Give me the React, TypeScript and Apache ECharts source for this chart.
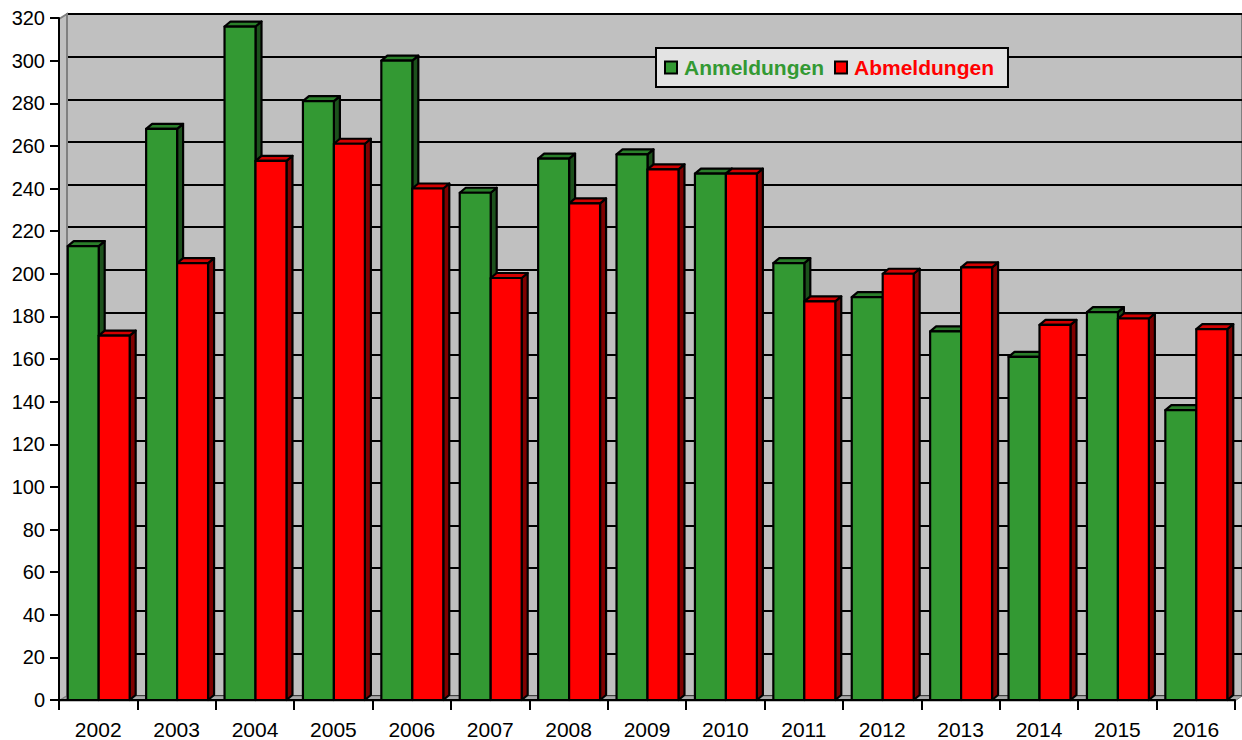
import React, { useEffect, useRef } from "react";
import * as echarts from "echarts";

const categories = ["2002","2003","2004","2005","2006","2007","2008","2009","2010","2011","2012","2013","2014","2015","2016"];
const anmeldungen = [213, 268, 316, 281, 300, 238, 254, 256, 247, 205, 189, 173, 161, 182, 136];
const abmeldungen = [171, 205, 253, 261, 240, 198, 233, 249, 247, 187, 200, 203, 176, 179, 174];
const seriesNames = ["Anmeldungen", "Abmeldungen"];
const yMin = 0;
const yMax = 320;
const yInterval = 20;

const FONT = "'Liberation Sans', Arial, sans-serif";

const palette = [
  { front: "#339933", top: "#2a7f2a", side: "#1c511c" },
  { front: "#FF0000", top: "#d40000", side: "#800000" },
];

function makeRender(s: number) {
  return (params: any, api: any) => {
    const idx = api.value(0);
    const val = api.value(1);
    const base = api.coord([idx, 0]);
    const top = api.coord([idx, val]);
    const cw = api.size([1, 0])[0];
    const bw = cw * 0.395;
    const x = s === 0 ? base[0] - bw + 0.5 : base[0] + 0.5;
    const ty = top[1];
    const by = base[1];
    const dx = 6;
    const dy = 5;
    const c = palette[s];
    const stroke = { stroke: "#000", lineWidth: 2.2, lineJoin: "round" };
    return {
      type: "group",
      children: [
        {
          type: "polygon",
          shape: { points: [[x + bw, ty], [x + bw + dx, ty - dy], [x + bw + dx, by - dy], [x + bw, by]] },
          style: { fill: c.side, ...stroke },
        },
        {
          type: "polygon",
          shape: { points: [[x, ty], [x + dx, ty - dy], [x + bw + dx, ty - dy], [x + bw, ty]] },
          style: { fill: c.top, ...stroke },
        },
        {
          type: "rect",
          shape: { x, y: ty, width: bw, height: by - ty },
          style: { fill: c.front, ...stroke },
        },
      ],
    };
  };
}

export default function App() {
  const ref = useRef<HTMLDivElement>(null);
  useEffect(() => {
    document.body.style.margin = "0";
    if (!ref.current) return;
    const chart = echarts.init(ref.current, null, { renderer: "svg" });
    const option: any = {
      animation: false,
      backgroundColor: "#ffffff",
      textStyle: { fontFamily: FONT },
      grid: [
        { left: 67, right: 0, top: 14, bottom: 44, show: true, backgroundColor: "#C0C0C0", borderColor: "#808080", borderWidth: 2 },
        { left: 59, right: 7, top: 18, bottom: 40 },
      ],
      legend: {
        left: 656,
        top: 48,
        width: 356,
        height: 39,
        padding: [9, 14, 9, 8],
        backgroundColor: "#E3E3E3",
        borderColor: "#000",
        borderWidth: 2,
        itemWidth: 12,
        itemHeight: 12,
        itemGap: 10,
        icon: "rect",
        itemStyle: { borderColor: "#000", borderWidth: 2 },
        textStyle: { fontSize: 21, fontWeight: "bold", fontFamily: FONT, padding: [0, 0, 0, 2] },
        data: [
          { name: seriesNames[0], textStyle: { color: "#339933" } },
          { name: seriesNames[1], textStyle: { color: "#FF0000" } },
        ],
      },
      xAxis: [
        { type: "category", gridIndex: 0, data: categories, show: false },
        {
          type: "category",
          gridIndex: 1,
          data: categories,
          z: 5,
          axisLine: { lineStyle: { color: "#000", width: 2 } },
          axisTick: { show: true, length: 10, lineStyle: { color: "#000", width: 2 } },
          axisLabel: { color: "#000", fontSize: 21, margin: 19, fontFamily: FONT },
          splitLine: { show: false },
        },
      ],
      yAxis: [
        {
          type: "value",
          gridIndex: 0,
          min: yMin,
          max: yMax,
          interval: yInterval,
          axisLine: { show: false },
          axisTick: { show: false },
          axisLabel: { show: false },
          splitLine: { show: true, lineStyle: { color: "#000", width: 2 } },
        },
        {
          type: "value",
          gridIndex: 1,
          min: yMin,
          max: yMax,
          interval: yInterval,
          z: 5,
          axisLine: { show: true, lineStyle: { color: "#000", width: 2 } },
          axisTick: { show: true, length: 9, lineStyle: { color: "#000", width: 2 } },
          axisLabel: { color: "#000", fontSize: 20, margin: 14, fontFamily: FONT },
          splitLine: { show: false },
        },
      ],
      graphic: [
        {
          type: "polygon",
          z: 1,
          shape: { points: [[59, 701], [67, 696], [67, 14], [59, 19]] },
          style: { fill: "#C0C0C0", stroke: "#808080", lineWidth: 2 },
        },
        {
          type: "polygon",
          z: 1,
          shape: { points: [[59, 701], [1235, 701], [1242, 696], [67, 696]] },
          style: { fill: "#A8A8A8", stroke: "#808080", lineWidth: 1 },
        },
      ],
      series: [0, 1].map((s) => ({
        type: "custom",
        name: seriesNames[s],
        xAxisIndex: 1,
        yAxisIndex: 1,
        z: 3,
        itemStyle: { color: palette[s].front },
        renderItem: makeRender(s),
        encode: { x: 0, y: 1 },
        data: (s === 0 ? anmeldungen : abmeldungen).map((v, i) => [i, v]),
      })),
    };
    chart.setOption(option);
    return () => chart.dispose();
  }, []);
  return <div ref={ref} style={{ width: 1242, height: 740 }} />;
}
